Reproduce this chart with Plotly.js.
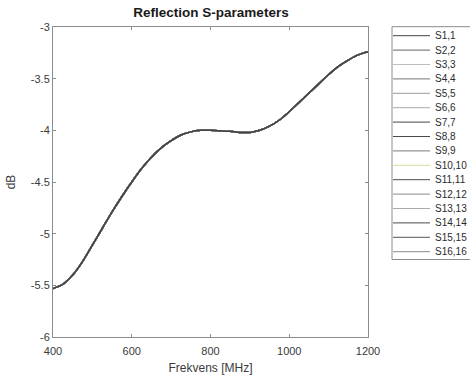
<!DOCTYPE html>
<html>
<head>
<meta charset="utf-8">
<script src="https://cdn.plot.ly/plotly-3.0.1.min.js"></script>
<style>html,body{margin:0;padding:0;background:#fff;}#chart{width:470px;height:376px;}</style>
</head>
<body>
<div id="chart"></div>
<script>
// ---- data ----
var freqMHz = [400, 425, 450, 475, 500, 525, 550, 575, 600, 625, 650, 675, 700, 725, 750, 775, 800, 825, 850, 875, 900, 925, 950, 975, 1000, 1025, 1050, 1075, 1100, 1125, 1150, 1175, 1200];
var reflectionDb = [-5.53, -5.49, -5.40, -5.27, -5.11, -4.95, -4.79, -4.64, -4.50, -4.37, -4.26, -4.17, -4.10, -4.045, -4.015, -4.00, -4.00, -4.005, -4.01, -4.02, -4.02, -4.00, -3.96, -3.90, -3.82, -3.73, -3.64, -3.55, -3.46, -3.38, -3.32, -3.27, -3.24];
var seriesNames = ["S1,1","S2,2","S3,3","S4,4","S5,5","S6,6","S7,7","S8,8","S9,9","S10,10","S11,11","S12,12","S13,13","S14,14","S15,15","S16,16"];
var seriesColors = ["#444444","#666666","#bdbdbd","#777777","#9a9a9a","#ababab","#474747","#4a4a4a","#7a7a7a","#d6dc9c","#4a4a4a","#8a8a8a","#ababab","#4a4a4a","#555555","#8a8a8a"];
var xTickVals = [400, 600, 800, 1000, 1200];
var yTickVals = [-6, -5.5, -5, -4.5, -4, -3.5, -3];
var yTickText = ["-6", "-5.5", "-5", "-4.5", "-4", "-3.5", "-3"];

// ---- geometry helpers (layout only) ----
var W = 470, H = 376;
var L = 53, R = 368, T = 27, B = 337;
function px(x) { return (x - L) / (R - L); }
function py(y) { return (B - y) / (B - T); }

var traces = [];
for (var i = seriesNames.length - 1; i >= 0; i--) {
  traces.push({
    x: freqMHz, y: reflectionDb, name: seriesNames[i], type: 'scatter', mode: 'lines',
    line: {color: seriesColors[i], width: 1.5, shape: 'spline', smoothing: 0.6},
    showlegend: false, hoverinfo: 'skip'
  });
}

var shapes = [{
  type: 'rect', xref: 'paper', yref: 'paper',
  x0: px(392), x1: px(476), y0: py(259.5), y1: py(26.7),
  line: {color: '#8c8c8c', width: 1}, fillcolor: 'rgba(255,255,255,0)'
}];
var annotations = [];
var entryTop = 35.7, entryStep = 14.4;
for (var k = 0; k < seriesNames.length; k++) {
  var yy = entryTop + k * entryStep;
  shapes.push({type: 'line', xref: 'paper', yref: 'paper', x0: px(393), x1: px(430), y0: py(yy), y1: py(yy),
    line: {color: seriesColors[k], width: 1}});
  annotations.push({xref: 'paper', yref: 'paper', x: px(433), y: py(yy), xanchor: 'left', yanchor: 'middle',
    text: seriesNames[k], showarrow: false, font: {family: 'Liberation Sans, Arial, sans-serif', size: 10, color: '#2b2b2b'}});
}

var axisCommon = {
  showgrid: false, zeroline: false, showline: true, linecolor: '#8c8c8c', linewidth: 1,
  mirror: 'ticks', ticks: 'inside', ticklen: 3, tickcolor: '#8c8c8c', tickwidth: 1,
  tickfont: {family: 'Liberation Sans, Arial, sans-serif', size: 11, color: '#3a3a3a'}
};

var layout = {
  width: W, height: H,
  margin: {l: L, r: W - R, t: T, b: H - B, pad: 0},
  paper_bgcolor: '#ffffff', plot_bgcolor: '#ffffff',
  showlegend: false,
  title: {text: '<b>Reflection S-parameters</b>', xref: 'container', x: 211 / W, xanchor: 'center', y: 1 - 12 / H, yanchor: 'middle',
    font: {family: 'Liberation Sans, Arial, sans-serif', size: 13.5, color: '#1a1a1a'}},
  xaxis: Object.assign({}, axisCommon, {
    range: [400, 1200], tickvals: xTickVals, ticklabelstandoff: 4,
    title: {text: 'Frekvens [MHz]', standoff: 7, font: {family: 'Liberation Sans, Arial, sans-serif', size: 12, color: '#3a3a3a'}}
  }),
  yaxis: Object.assign({}, axisCommon, {
    range: [-6, -3], tickvals: yTickVals, ticktext: yTickText,
    title: {text: 'dB', standoff: 12, font: {family: 'Liberation Sans, Arial, sans-serif', size: 12, color: '#3a3a3a'}}
  }),
  shapes: shapes,
  annotations: annotations
};

Plotly.newPlot('chart', traces, layout, {displayModeBar: false, staticPlot: true});
</script>
</body>
</html>
